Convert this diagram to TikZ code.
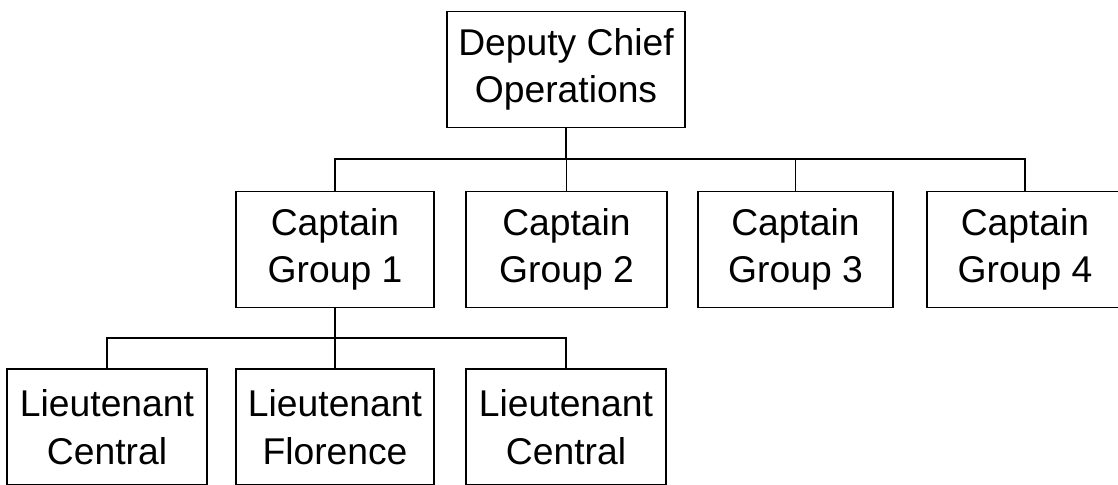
\documentclass[tikz,border=0pt]{standalone}
\usepackage{fontspec}
\setmainfont{Liberation Sans}
\usetikzlibrary{positioning}

\begin{document}
\begin{tikzpicture}[
    orgbox/.style={draw, line width=1pt, align=center, inner sep=0pt,
        minimum height=2.32cm, font=\fontsize{21.2}{27}\selectfont},
    link/.style={line width=1pt}
]

    % 核心参数
    \def\yTop{8.31}     % 顶层方框中心高度
    \def\yCap{4.71}     % 第二层方框中心高度
    \def\yLt{1.16}      % 第三层方框中心高度

    % 0. 固定画面范围
    \useasboundingbox (0,0) rectangle (22.36,9.70);

    % 1. 顶层
    \node[orgbox, minimum width=4.76cm] (chief) at (11.32,\yTop) {Deputy Chief\\Operations};

    % 2. 第二层
    \node[orgbox, minimum width=3.96cm] (cap1) at (6.70,\yCap) {Captain\\Group 1};
    \node[orgbox, minimum width=4.02cm] (cap2) at (11.33,\yCap) {Captain\\Group 2};
    \node[orgbox, minimum width=3.90cm] (cap3) at (15.91,\yCap) {Captain\\Group 3};
    \node[orgbox, minimum width=3.92cm] (cap4) at (20.50,\yCap) {Captain\\Group 4};

    % 3. 第三层
    \node[orgbox, minimum width=4.00cm] (lt1) at (2.14,\yLt) {Lieutenant\\Central};
    \node[orgbox, minimum width=3.96cm] (lt2) at (6.70,\yLt) {Lieutenant\\Florence};
    \node[orgbox, minimum width=4.00cm] (lt3) at (11.32,\yLt) {Lieutenant\\Central};

    % 4. 连接线
    \coordinate (capbus) at (0,6.52);
    \coordinate (ltbus) at (0,2.94);
    \draw[link] (cap1.north) -- (cap1.north |- capbus) -| (cap4.north);
    \draw[link] (chief.south) -- (chief.south |- capbus);
    \foreach \n in {cap2,cap3}
        \draw[link] (\n.north) -- (\n.north |- capbus);

    \draw[link] (lt1.north) -- (lt1.north |- ltbus) -| (lt3.north);
    \draw[link] (cap1.south) -- (lt2.north);

\end{tikzpicture}
\end{document}
